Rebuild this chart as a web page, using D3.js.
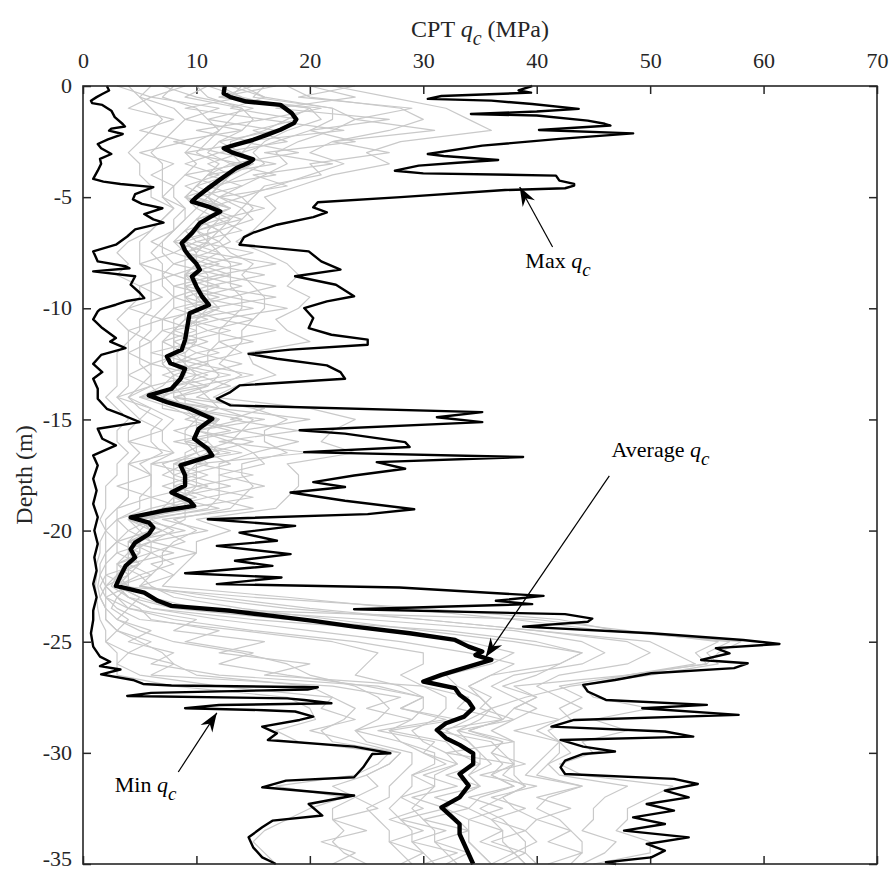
<!DOCTYPE html>
<html>
<head>
<meta charset="utf-8">
<title>CPT qc profiles</title>
<script src="https://d3js.org/d3.v7.min.js"></script>
<style>
  body{margin:0;background:#fff;}
  text{font-family:"Liberation Serif","Times New Roman",serif;fill:#262626;}
  .axis text{font-size:22px;fill:#262626;}
  .axis path{display:none;}
  .axis line{stroke:#262626;stroke-width:1.5;}
  .frame{fill:none;stroke:#262626;stroke-width:1.6;}
  .sounding{fill:none;stroke:#c9c9c9;stroke-width:1.2;stroke-linejoin:round;}
  .envelope{fill:none;stroke:#000;stroke-width:2.4;stroke-linejoin:round;}
  .average{fill:none;stroke:#000;stroke-width:4.4;stroke-linejoin:round;}
  .label{font-size:22px;fill:#000;}
  .title{font-size:24px;fill:#262626;}
  .pointer{stroke:#000;stroke-width:1.2;}
  .head{fill:#000;}
</style>
</head>
<body>
<script>

// chart size
const w = 891;
const h = 872;
const margin = {left:83, right:14, top:86, bottom:8};

// tick values
const xTicks = [0,10,20,30,40,50,60,70];
const yTicks = [0,-5,-10,-15,-20,-25,-30,-35];

// depths (m) at which the individual soundings were read
const grayDepths = [0,0.5,1,1.5,2,2.5,3,3.5,4,4.5,5,5.5,6,6.5,7,7.5,8,8.5,9,9.5,
  10,10.5,11,11.5,12,12.5,13,13.5,14,14.5,15,15.5,16,16.5,17,17.5,18,18.5,19,19.5,
  20,20.5,21,21.5,22,22.5,23,23.5,24,24.5,25,25.5,26,26.5,27,27.5,28,28.5,29,29.5,
  30,30.5,31,31.5,32,32.5,33,33.5,34,34.5,35];

// qc (MPa) of the 20 soundings, one row per depth above
const soundingQc = [
  [4,8,10,12,14,18,22,6,15,11,16,14, 3,9,13,17,20,7,11,24],
  [5,7,11,14,16,20,27,5,12,9,15,13, 6,6,16,12,24,10,14,19],
  [6,10,14,18,22,28,32,8,20,14,22,20, 4,12,13,21,17,15,9,29],
  [7,11,15,19,24,30,34,9,21,13,22,18, 8,9,19,16,27,11,16,24],
  [6,12,14,17,22,27,36,8,18,12,20,16, 5,14,15,23,20,17,10,31],
  [5,10,12,15,19,22,28,7,16,11,17,13, 9,8,18,14,24,12,15,22],
  [4,9,11,14,17,20,25,6,15,10,14,13, 5,12,12,19,16,14,9,27],
  [5,10,13,15,18,23,27,7,16,12,15,14, 8,9,17,13,22,11,14,20],
  [5,9,11,13,16,20,22,7,14,11,13,13, 6,12,11,17,15,13,9,21],
  [6,8,10,12,14,17,19,7,12,10,12,11, 8,9,14,11,18,10,12,16],
  [6,8,9,11,12,14,16,7,11,9,11,10, 7,11,10,14,12,12,9,15],
  [8,9,11,12,14,15,17,8,13,10,12,12, 9,10,13,11,16,11,13,14],
  [7,9,10,11,13,14,16,7,11,9,11,12, 8,12,10,14,12,13,10,15],
  [6,8,9,10,12,13,15,6,10,8,10,11, 8,9,12,10,14,10,12,12],
  [4,7,8,9,11,12,13.5,5,9,7,9,11, 6,10,9,12,10,11,8,13],
  [3,7,9,10,12,13,16,5,9,6,10,10, 8,8,12,9,15,9,11,11],
  [4,8,9,10,13,15,18,5,10,7,10,10, 5,11,10,14,11,12,8,17],
  [3,7,9,11,13,14,19,6,9,7,9,9, 8,8,13,10,16,9,12,12],
  [5,8,9,11,13,15,18,6,10,7,9,9, 5,11,9,14,11,12,8,17],
  [5,8,10,11,14,16,20,6,10,8,9,9, 7,8,13,10,17,9,12,13],
  [4,8,10,12,14,16,19,6,11,7,10,9, 4,11,9,15,11,12,8,18],
  [3,7,9,10,13,15,17,5,10,6,8,9, 7,7,12,9,15,9,11,12],
  [4,7,8,10,12,14,18,5,9,6,8,8, 4,10,8,13,11,11,7,17],
  [4,6,8,10,12,14,20,4,9,5,7,8, 6,7,11,9,15,8,10,12],
  [3,6,8,9,11,13,14.5,4,8,5,7,8, 4,9,8,12,10,10,6,14],
  [3,6,7,9,11,12,15,4,8,5,7,9, 6,6,11,8,14,8,10,10],
  [3,6,8,10,12,14,17,4,9,6,8,9, 4,10,8,13,10,11,7,15],
  [3,5,7,9,11,12,13.5,4,8,6,8,8, 6,6,11,8,13,8,10,10],
  [2,4,5,7,8,10,11.5,3,6,4,6,7, 3,7,6,9,8,8,5,11],
  [3,5,8,10,12,15,20,4,9,6,9,9, 6,7,11,9,16,9,12,12],
  [4,7,10,12,15,18,24,5,12,8,10,12, 5,12,10,16,13,14,9,20],
  [3,6,9,11,14,16,22,4,10,7,10,10, 7,8,14,10,19,10,13,14],
  [3,6,9,11,13,16,21,4,10,7,10,10, 4,11,9,15,12,13,8,19],
  [4,7,10,12,15,18,24,5,11,8,10,12, 8,9,14,11,20,10,13,15],
  [3,5,8,10,12,14,18,4,9,6,7,10, 4,9,8,13,10,11,6,16],
  [3,6,8,10,12,14,19,4,9,6,8,9, 6,7,11,9,15,8,10,12],
  [2,6,8,10,12,15,19,4,9,6,8,9, 3,10,8,13,10,11,7,16],
  [2,5,8,9,12,14,18,4,9,6,8,8, 6,6,11,8,15,8,10,11],
  [2,5,7,9,11,13,17,3,9,6,8,8, 3,9,7,12,9,10,6,15],
  [1.5,3,4,5,6,8,10,2,5,3,5,5, 3,4,6,5,9,4,6,7],
  [2,3,5,6,8,10,13,2,6,4,6,7, 2,6,5,9,7,7,4,11],
  [1.5,3,4,5,6,8,10,2,5,3,4,5, 3,3,6,4,9,4,6,6],
  [1.5,2,4,5,6,7,10,2,4,3,4,5, 2,5,4,8,6,6,3,10],
  [1.2,2,3,4,5,7,9,1.5,4,2,4,4, 2,3,5,4,8,3,5,6],
  [1.2,2,3,4,4,6,8,1.5,3,2,3,3, 1.5,4,3,6,5,5,2,8],
  [1.1,1.5,2,3,4,5,7,1.3,3,2,2.5,3, 2,2,4,3,6,3,4,5],
  [1.2,2,3,4,6,10,18,1.5,5,2,4,15, 1.5,3,3,5,8,4,2,12],
  [1.3,2,4,6,10,18,28,2,8,3,8,30, 2,2.5,5,4,14,6,4,20],
  [1.5,3,8,15,25,30,38,2,18,5,40,42, 2,4,6,10,22,12,3,30],
  [2,5,15,28,38,40,46,3,32,14,48,47, 3,3,12,8,30,20,6,40],
  [2,8,24,34,44,48,58,5,40,22,56,57, 2,6,9,16,38,28,4,50],
  [3,14,30,38,46,50,56,7,44,26,54,55, 4,4,15,12,44,34,8,52],
  [3,18,30,36,44,48,55,8,42,25,55,56, 3,8,12,20,42,38,6,54],
  [3,20,28,32,38,42,48,10,36,24,48,50, 5,6,18,16,40,36,12,48],
  [8,24,30,33,36,40,44,20,34,28,38,43, 12,22,25,30,37,34,26,42],
  [18,26,32,35,38,42,45,22,35,30,40,39, 22,28,30,34,40,36,30,44],
  [20,27,32,36,40,44,50,24,36,30,38,36, 21,25,28,33,38,35,28,42],
  [20.5,26,31,34,38,42,45,23,35,29,37,37, 24,29,33,37,42,38,32,43],
  [17,24,29,32,36,40,48,21,33,27,34,34, 20,24,27,31,38,33,26,41],
  [19,25,30,34,38,42,44,22,34,28,37,38, 24,28,32,36,42,37,31,42],
  [27,29,32,35,38,42,45,28,35,31,36,32, 28,30,33,37,41,36,30,43],
  [26,29,33,35,38,41,42,27,36,31,37,38, 27,32,35,38,40,39,33,41],
  [24,28,31,34,37,40,44,25,34,29,36,38, 25,29,32,36,39,35,30,42],
  [17,27,31,35,39,44,52,22,35,29,38,39, 26,31,35,38,44,40,33,48],
  [23,27,30,33,37,41,50,24,33,28,35,37, 24,28,31,34,40,36,29,46],
  [20,25,29,32,35,40,48,22,32,27,34,38, 26,30,34,37,43,39,32,45],
  [18,26,30,33,37,42,48,22,34,28,36,40, 22,27,30,34,40,36,28,45],
  [16,27,31,34,38,43,47,23,34,29,37,39, 25,30,34,37,43,39,32,44],
  [15,27,31,34,39,44,50,22,34,29,37,40, 21,27,31,35,41,36,29,47],
  [16,28,32,35,39,44,50,23,35,30,38,38, 24,30,34,38,44,39,33,46],
  [17,29,33,36,40,43,45,25,36,31,39,39, 22,28,32,36,41,37,30,44]
];

// envelope and mean, [depth m, qc MPa]
const maxQc = [[0,39.6],[0.2,38.4],[0.3,39.5],[0.45,31.6],[0.58,30.4],[0.66,36],[0.81,39.6],[1.03,43.7],
  [1.15,40],[1.26,34.2],[1.33,40],[1.56,44.5],[1.7,46],[1.78,46.5],[1.98,40.2],[2.13,48.5],[2.38,42],
  [2.68,35.2],[3.06,30.4],[3.15,31.8],[3.33,36.6],[3.45,33],[3.58,29.6],[3.81,27.5],[3.93,30],[4.03,41.7],
  [4.26,42],[4.4,43.3],[4.48,43.3],[4.6,42.5],[4.68,37.2],[5.0,28],[5.23,20.7],[5.46,20.3],[5.68,21.5],
  [5.9,20.3],[6.24,17.1],[6.6,15],[6.8,14.2],[7.14,13.8],[7.44,19.9],[7.89,21],[8.26,22.7],[8.56,18.7],
  [8.94,22.3],[9.46,23.9],[9.69,21.5],[9.99,19.5],[10.44,20.3],[10.89,19.9],[11.19,21.9],[11.41,25.1],
  [11.64,25.1],[11.86,18.3],[12.05,14.6],[12.27,17.1],[12.57,21.5],[12.87,22.7],[13.17,23.1],[13.47,13.8],
  [13.77,13],[14.07,11.8],[14.37,13],[14.67,35.2],[14.9,31.2],[15.12,35.2],[15.49,19.1],[15.64,23.1],
  [16.02,28.4],[16.24,28.8],[16.47,19.5],[16.69,38.8],[16.92,25.9],[17.22,28.4],[17.52,23.9],[17.82,20.3],
  [18.04,23.1],[18.29,18.3],[18.66,23.1],[19.04,29.2],[19.26,25.1],[19.49,11],[19.79,18.7],[20.09,13.8],
  [20.46,17.1],[20.69,11.8],[21.06,18.3],[21.36,13.4],[21.59,16.7],[21.92,9],[22.11,17.5],[22.41,11.8],
  [22.56,27.9],[22.94,40.6],[23.16,36.4],[23.31,39.6],[23.54,23.9],[23.76,42.5],[23.96,44.9],[24.1,44.5],
  [24.32,38.8],[24.62,50.1],[24.92,58.2],[25.1,61.4],[25.29,55.8],[25.52,57],[25.82,54.5],[25.97,58.6],
  [26.19,57.4],[26.42,50.1],[26.72,46.9],[26.94,44.1],[27.24,44.5],[27.62,46.1],[27.84,55],[27.99,49.3],
  [28.29,57.8],[28.52,43.3],[28.82,41.3],[29.04,51.3],[29.27,53.8],[29.42,42.1],[29.72,44.1],[29.94,46.9],
  [30.05,44.1],[30.35,42.5],[30.65,42.1],[30.95,42.5],[31.17,52.1],[31.4,54.2],[31.7,51.3],[32.0,53.4],
  [32.3,49.7],[32.6,52.1],[32.9,48.5],[33.2,51.3],[33.5,47.7],[33.8,53.4],[34.1,49.7],[34.4,51.3],
  [34.7,50.1],[34.92,46.1],[35,47]];

const minQc = [[0,2.1],[0.2,2.3],[0.36,1.7],[0.5,1.2],[0.66,0.7],[0.77,0.8],[0.85,1.7],[1.11,2.5],[1.4,2.8],
  [1.71,3.5],[1.82,3.7],[1.92,2.5],[2.01,2.3],[2.16,3.5],[2.4,2.2],[2.61,1.3],[2.8,1.6],[3.06,2.5],[3.28,1.5],
  [3.5,1.6],[3.81,1.3],[4.18,0.9],[4.3,1.8],[4.41,3.3],[4.55,6.2],[4.63,5.8],[4.86,4.6],[5.1,4.4],[5.3,5.2],
  [5.5,7.0],[5.76,5.4],[6.0,6.2],[6.15,7.1],[6.45,4.6],[6.77,3.9],[7.14,2.9],[7.44,0.9],[7.89,1.3],[8.11,3.75],
  [8.2,4.1],[8.34,0.9],[8.56,4.6],[8.94,4.2],[9.3,5],[9.54,5.4],[9.67,3.9],[9.84,2.9],[10.05,1.5],[10.14,1.3],
  [10.5,0.9],[10.89,1.7],[11.34,2.9],[11.5,2.4],[11.79,3.75],[12.1,1.6],[12.27,1.3],[12.5,0.9],[12.87,1.7],
  [13.17,0.9],[13.62,1.3],[14.07,1.3],[14.52,2.1],[14.8,3.5],[15.12,5],[15.42,1.3],[15.87,1.7],[16.17,2.9],
  [16.62,0.9],[17.07,1.3],[17.67,0.9],[18.2,1.2],[18.8,0.9],[19.4,1.3],[20.0,1.0],[20.6,1.3],[21.2,1.0],
  [21.8,1.2],[22.4,0.9],[23.0,1.2],[23.6,0.9],[24.02,0.9],[24.62,0.7],[25.22,0.9],[25.67,1.5],[25.9,2.4],
  [26.1,1.5],[26.25,3.3],[26.47,1.6],[26.72,4.4],[26.9,5.3],[26.97,7.8],[27.05,20.7],[27.15,19.8],[27.3,6],
  [27.44,3.9],[27.55,18],[27.62,19.5],[27.77,21.9],[27.85,12],[27.99,9.0],[28.08,16],[28.14,18.7],[28.37,20.3],
  [28.52,19.1],[28.82,15.8],[29.12,17.1],[29.42,16.3],[29.72,23.9],[30.02,27.1],[30.05,25.5],[30.65,24.7],
  [31.1,23.9],[31.25,17.9],[31.55,15.8],[31.92,23.9],[32.3,19.9],[32.82,21.1],[33.05,16.7],[33.35,15.8],
  [33.8,14.6],[34.25,15],[34.7,15.8],[34.92,16.7],[35,17]];

const avgQc = [[0,12.5],[0.33,12.4],[0.5,13],[0.7,14.4],[0.85,17.4],[1.22,18.4],[1.5,18.8],[1.67,18.6],
  [1.97,17.4],[2.2,16.2],[2.42,15],[2.65,13.4],[2.8,12.4],[3.0,13.2],[3.3,15.0],[3.45,14.6],[3.7,13.5],
  [4.2,12.1],[4.65,10.9],[5.0,10.0],[5.2,9.6],[5.45,11.2],[5.65,12.1],[5.9,11.2],[6.17,10.3],[6.62,9.6],
  [7.07,8.7],[7.4,9.0],[7.67,9.4],[8.0,10.0],[8.27,10.3],[8.57,9.6],[9.02,10.0],[9.47,10.5],[9.85,11.1],
  [10.22,9.4],[10.82,9.2],[11.42,9.0],[11.87,8.7],[12.17,7.4],[12.47,7.7],[12.72,9.0],[13.17,8.6],
  [13.62,7.8],[13.92,5.8],[14.22,7.4],[14.52,9.4],[14.97,11.4],[15.42,10.2],[15.87,9.8],[16.32,11],
  [16.62,11.4],[17.07,8.6],[17.52,9.0],[17.97,9.0],[18.29,7.8],[18.66,9.4],[18.89,9.8],[19.11,7.0],
  [19.41,4.2],[19.64,5.8],[19.86,6.2],[20.16,5.8],[20.54,4.6],[20.84,4.2],[21.21,4.6],[21.59,3.75],
  [22.04,3.3],[22.49,2.9],[22.79,5.4],[23.16,6.6],[23.39,7.8],[23.61,13],[23.84,16.7],[24.06,20.3],
  [24.32,23.9],[24.62,28.8],[24.92,32.8],[25.22,34],[25.44,35.2],[25.6,34.6],[25.82,36],[26.12,34],
  [26.49,31.6],[26.79,30],[27.09,32.8],[27.39,33.2],[27.69,34],[27.99,34.4],[28.37,33.6],[28.67,32],
  [28.97,31.2],[29.34,32],[29.64,33.2],[30.02,34.4],[30.5,34.4],[30.95,33.2],[31.47,34],[32.0,33.2],
  [32.45,31.6],[32.82,32.4],[33.2,33.2],[33.65,33.2],[34.1,33.6],[34.55,34],[35,34.4]];

// text arrows, in data units (qc, depth)
const notes = [
  {name:"Max",     tx:39.0, td:8.19,  fx:41.4, fd:7.24,  px:38.5, pd:4.54},
  {name:"Average", tx:46.6, td:16.68, fx:46.4, fd:17.54, px:35.5, pd:25.69},
  {name:"Min",     tx:2.8,  td:31.76, fx:8.4,  fd:30.86, px:11.8, pd:28.2}
];

// scales
const x = d3.scaleLinear().domain([0,70]).range([margin.left, w-margin.right]);
const y = d3.scaleLinear().domain([0,-35]).range([margin.top, h-margin.bottom]);

const svg = d3.select("body").append("svg")
  .attr("width", w)
  .attr("height", h);

// axes, ticks pointing in
svg.append("g").attr("class","axis")
  .attr("transform","translate(0,"+margin.top+")")
  .call(d3.axisTop(x).tickValues(xTicks).tickSizeInner(-8).tickSizeOuter(0).tickPadding(18));
svg.append("g").attr("class","axis")
  .attr("transform","translate(0,"+(h-margin.bottom)+")")
  .call(d3.axisBottom(x).tickValues(xTicks).tickSizeInner(-8).tickSizeOuter(0).tickFormat(""));
const yAx = svg.append("g").attr("class","axis")
  .attr("transform","translate("+margin.left+",0)")
  .call(d3.axisLeft(y).tickValues(yTicks).tickSizeInner(-8).tickSizeOuter(0).tickPadding(11)
    .tickFormat(function(d){return String(d);}));
// last label sits at the bottom edge, nudge it up so it stays in the page
yAx.selectAll("text").attr("dy", function(d){return d === -35 ? "0.08em" : "0.3em";});
svg.append("g").attr("class","axis")
  .attr("transform","translate("+(w-margin.right)+",0)")
  .call(d3.axisRight(y).tickValues(yTicks).tickSizeInner(-8).tickSizeOuter(0).tickFormat(""));

// lines
const line = d3.line()
  .x(function(d){return x(d[1]);})
  .y(function(d){return y(-d[0]);});

const profiles = d3.transpose(soundingQc).map(function(vals){
  return vals.map(function(v,i){return [grayDepths[i], v];});
});

svg.append("g").selectAll("path")
  .data(profiles)
  .enter().append("path")
  .attr("class","sounding")
  .attr("d", line);

svg.append("path").datum(maxQc).attr("class","envelope").attr("d", line);
svg.append("path").datum(minQc).attr("class","envelope").attr("d", line);
svg.append("path").datum(avgQc).attr("class","average").attr("d", line);

// frame
svg.append("rect")
  .attr("class","frame")
  .attr("x", margin.left)
  .attr("y", margin.top)
  .attr("width", w-margin.left-margin.right)
  .attr("height", h-margin.top-margin.bottom);

// axis titles
const xt = svg.append("text")
  .attr("class","title")
  .attr("x", x(35))
  .attr("y", 37)
  .attr("text-anchor","middle");
xt.append("tspan").text("CPT ");
xt.append("tspan").attr("font-style","italic").text("q");
xt.append("tspan").attr("font-style","italic").attr("dy",8).attr("font-size","20px").text("c");
xt.append("tspan").attr("dy",-8).text(" (MPa)");

svg.append("text")
  .attr("class","title")
  .attr("transform","translate(32,"+y(-17.5)+") rotate(-90)")
  .attr("text-anchor","middle")
  .text("Depth (m)");

// annotations
function arrowHead(x1,y1,x2,y2){
  const dx = x2-x1, dy = y2-y1, len = Math.sqrt(dx*dx+dy*dy);
  const ux = dx/len, uy = dy/len, nx = -uy, ny = ux;
  const L = 19, W = 7, notch = 6;
  return "M"+x2+","+y2+
    "L"+(x2-ux*L+nx*W)+","+(y2-uy*L+ny*W)+
    "L"+(x2-ux*(L-notch))+","+(y2-uy*(L-notch))+
    "L"+(x2-ux*L-nx*W)+","+(y2-uy*L-ny*W)+"Z";
}

notes.forEach(function(n){
  const x1 = x(n.fx), y1 = y(-n.fd), x2 = x(n.px), y2 = y(-n.pd);
  svg.append("line").attr("class","pointer")
    .attr("x1",x1).attr("y1",y1).attr("x2",x2).attr("y2",y2);
  svg.append("path").attr("class","head").attr("d", arrowHead(x1,y1,x2,y2));
  const t = svg.append("text").attr("class","label")
    .attr("x", x(n.tx)).attr("y", y(-n.td));
  t.append("tspan").text(n.name+" ");
  t.append("tspan").attr("font-style","italic").text("q");
  t.append("tspan").attr("font-style","italic").attr("dy",8).attr("font-size","19px").text("c");
});

</script>
</body>
</html>
